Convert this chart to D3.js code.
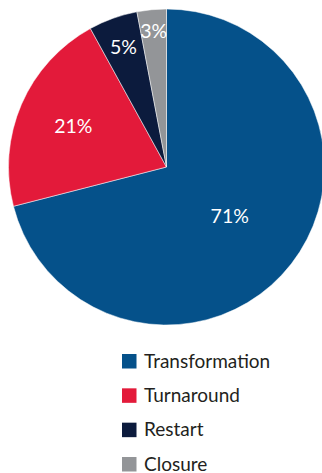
<!DOCTYPE html>
<html>
<head>
<meta charset="utf-8">
<script src="https://cdn.jsdelivr.net/npm/d3@7"></script>
<style>
  html, body { margin: 0; padding: 0; background: #fff; }
  svg { display: block; }
</style>
</head>
<body>
<svg id="chart"></svg>
<script>
// ======================
// DATA
// ======================
const categories = ["Transformation", "Turnaround", "Restart", "Closure"];
const shares = [71, 21, 5, 3];
const sliceColors = ["#05518a", "#e31a3a", "#0c1b3d", "#939598"];

// ======================
// SETUP
// ======================
const width = 322;
const height = 473;
const svg = d3.select("#chart")
    .attr("width", width)
    .attr("height", height);

const cx = 166.5, cy = 167, radius = 158;
const font = "Lato, 'Open Sans', sans-serif";

const data = categories.map((c, i) => ({ name: c, value: shares[i], color: sliceColors[i] }));

const pie = d3.pie().sort(null).value(d => d.value);
const arc = d3.arc().innerRadius(0).outerRadius(radius);

const pieG = svg.append("g").attr("transform", `translate(${cx},${cy})`);

const arcs = pie(data);

pieG.selectAll("path.slice")
    .data(arcs)
    .enter()
    .append("path")
    .attr("class", "slice")
    .attr("d", arc)
    .attr("fill", d => d.data.color)
    .attr("stroke", "#fff")
    .attr("stroke-width", 0.5);

// small slices get their labels pushed out toward the rim
const labelR = d3.scaleLog()
    .domain([3, 71])
    .range([136, 80]);

pieG.selectAll("text.pct")
    .data(arcs)
    .enter()
    .append("text")
    .attr("class", "pct")
    .attr("transform", d => {
        const a = (d.startAngle + d.endAngle) / 2;
        const r = labelR(d.data.value);
        return `translate(${Math.sin(a) * r},${-Math.cos(a) * r})`;
    })
    .attr("text-anchor", "middle")
    .attr("dy", "0.35em")
    .attr("fill", "#fff")
    .style("font-family", font)
    .style("font-size", "19.5px")
    .text(d => d.data.value + "%");

// ======================
// LEGEND
// ======================
const legendY = d3.scalePoint()
    .domain(categories)
    .range([354, 457]);

const legend = svg.append("g").attr("transform", "translate(122,0)");

const rows = legend.selectAll("g.row")
    .data(data)
    .enter()
    .append("g")
    .attr("class", "row")
    .attr("transform", d => `translate(0,${legendY(d.name)})`);

rows.append("rect")
    .attr("width", 14.5)
    .attr("height", 14.5)
    .attr("fill", d => d.color);

rows.append("text")
    .attr("x", 22)
    .attr("y", 13.5)
    .attr("fill", "#231f20")
    .style("font-family", font)
    .style("font-size", "19px")
    .text(d => d.name);
</script>
</body>
</html>
